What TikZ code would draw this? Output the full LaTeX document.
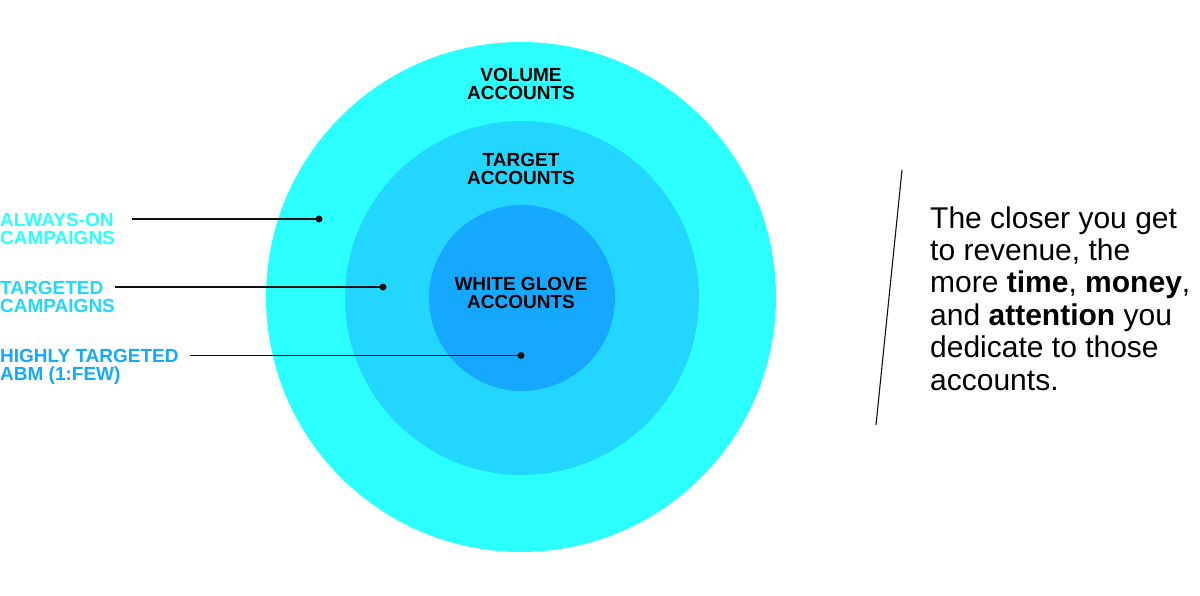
\documentclass[tikz,border=0pt]{standalone}
\usepackage{fontspec}
\setmainfont{Liberation Sans}
\definecolor{outerc}{HTML}{2BFFFF}
\definecolor{midc}{HTML}{22D6FF}
\definecolor{innerc}{HTML}{16A8FF}
\definecolor{ink}{HTML}{111111}
\tikzset{
  ring/.style={circle, draw=none, inner sep=0pt},
  ringlabel/.style={anchor=north, align=center, inner sep=0pt, text=black,
    font=\fontsize{19}{18}\selectfont\bfseries},
  sidelabel/.style={anchor=north west, align=left, inner sep=0pt,
    font=\fontsize{19}{18}\selectfont\bfseries},
  dotmark/.style={circle, fill=ink, inner sep=0pt, minimum size=7pt},
  leader/.style={draw=ink, line width=1.1pt},
  bodyline/.style={anchor=base west, inner sep=0pt, font=\fontsize{30}{32}\selectfont}
}
\begin{document}
\begin{tikzpicture}[x=1pt,y=-1pt]
\useasboundingbox (0,0) rectangle (1200,595);
\fill[white] (0,0) rectangle (1200,595);
% circles
\node[ring, fill=outerc, minimum size=510pt] (outer) at (521,297) {};
\node[ring, fill=midc, minimum size=354pt] (mid) at (522,298) {};
\node[ring, fill=innerc, minimum size=186pt] (inner) at (522,298) {};
% circle labels
\node[ringlabel] (lv) at (521,68) {VOLUME\\ACCOUNTS};
\node[ringlabel] (lt) at (521,153) {TARGET\\ACCOUNTS};
\node[ringlabel] (lw) at (521,277) {WHITE GLOVE\\ACCOUNTS};
% side labels
\node[sidelabel, text=outerc] (s1) at (0,213) {ALWAYS-ON\\CAMPAIGNS};
\node[sidelabel, text=midc] (s2) at (0,281) {TARGETED\\CAMPAIGNS};
\node[sidelabel, text=innerc] (s3) at (0,349) {HIGHLY TARGETED\\ABM (1:FEW)};
% leaders
\coordinate (a1) at (132,219);
\coordinate (a2) at (115,287);
\coordinate (a3) at (190,355.5);
\node[dotmark] (d1) at (319,219) {};
\node[dotmark] (d2) at (383,287) {};
\node[dotmark] (d3) at (521,355.5) {};
\draw[leader] (a1) -- (d1.center);
\draw[leader] (a2) -- (d2.center);
\draw[leader] (a3) -- (d3.center);
% slash
\coordinate (sl1) at (902,170);
\coordinate (sl2) at (876,425);
\draw[draw=ink, line width=1.1pt] (sl1) -- (sl2);
% body text
\node[bodyline] (r1) at (930,228) {The closer you get};
\node[bodyline] (r2) at (930,260.4) {to revenue, the};
\node[bodyline] (r3) at (930,292.8) {more \textbf{time}, \textbf{money},};
\node[bodyline] (r4) at (930,325.2) {and \textbf{attention} you};
\node[bodyline] (r5) at (930,357.6) {dedicate to those};
\node[bodyline] (r6) at (930,390) {accounts.};
\end{tikzpicture}
\end{document}
